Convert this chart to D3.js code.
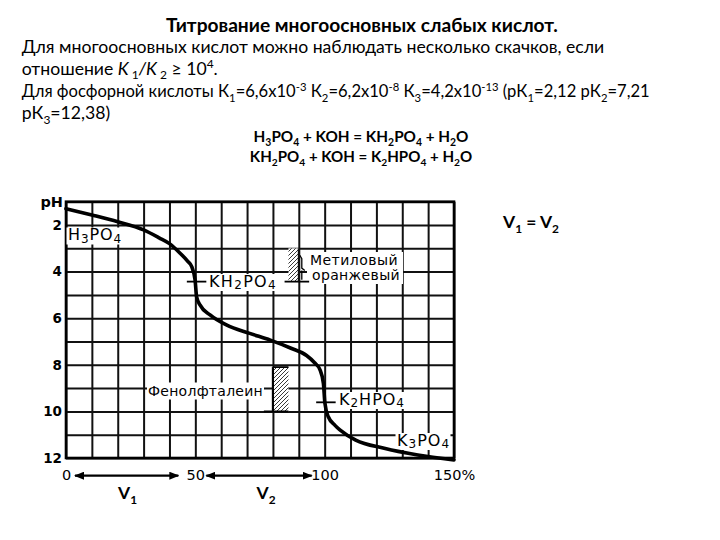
<!DOCTYPE html>
<html><head><meta charset="utf-8">
<script src="https://cdn.jsdelivr.net/npm/d3@7/dist/d3.min.js"></script>
<style>body{margin:0;background:#fff}svg{display:block}</style>
</head><body>
<svg id="c" width="720" height="540"></svg>
<script>
// ---------- data ----------
const titrantPct = [0, 10, 20, 30, 36, 40, 44, 47, 48.6, 49.9, 50.5, 51.8, 55.7, 62, 71, 79, 87, 93, 96, 98.2, 99.5, 100.1, 101.4, 104, 106, 112, 123, 136, 150];
const pHValues   = [1.3, 1.57, 1.86, 2.21, 2.55, 2.8, 3.2, 3.55, 3.79, 4.36, 5.08, 5.43, 5.86, 6.29, 6.65, 6.94, 7.29, 7.6, 7.9, 8.22, 8.79, 9.65, 10.23, 10.6, 10.8, 11.23, 11.58, 11.87, 12.08];
const xTickLabels = [0, 50, 100, 150];
const yTickLabels = [2, 4, 6, 8, 10, 12];
const gridPct = d3.range(0, 151, 10);
const gridPH = d3.range(1, 13, 1);
const equivalencePct = [50, 100];
const equivalencePH = [4.43, 9.61];
const indicatorPct = [[86, 90], [80, 86]];
const indicatorPH = [[3.0, 4.43], [8.1, 10.0]];
const volumeSpans = [[0, 50], [50, 100]];
const volumeNames = [[["V"], ["1", "sub"]], [["V"], ["2", "sub"]]];
const speciesNames = [
  [["H"], ["3", "sub"], ["PO"], ["4", "sub"]],
  [["KH"], ["2", "sub"], ["PO"], ["4", "sub"]],
  [["K"], ["2", "sub"], ["HPO"], ["4", "sub"]],
  [["K"], ["3", "sub"], ["PO"], ["4", "sub"]]
];
const headerTitle = [["Титрование многоосновных слабых кислот."]];
const headerLines = [
  [["Для многоосновных кислот можно наблюдать несколько скачков, если"]],
  [["отношение "], ["K", "i"], ["1", "sub"], ["/K", "i"], ["2", "sub"], [" ≥ 10"], ["4", "sup"], ["."]],
  [["Для фосфорной кислоты К"], ["1", "sub"], ["=6,6x10"], ["-3", "sup"], [" К"], ["2", "sub"], ["=6,2x10"], ["-8", "sup"], [" К"], ["3", "sub"], ["=4,2x10"], ["-13", "sup"], [" (pК"], ["1", "sub"], ["=2,12 pК"], ["2", "sub"], ["=7,21"]],
  [["pК"], ["3", "sub"], ["=12,38)"]]
];
const equations = [
  [["H"], ["3", "sub"], ["PO"], ["4", "sub"], [" + KOH = KH"], ["2", "sub"], ["PO"], ["4", "sub"], [" + H"], ["2", "sub"], ["O"]],
  [["KH"], ["2", "sub"], ["PO"], ["4", "sub"], [" + KOH = K"], ["2", "sub"], ["HPO"], ["4", "sub"], [" + H"], ["2", "sub"], ["O"]]
];
const equalityText = [["V"], ["1", "sub"], [" = V"], ["2", "sub"]];
const indicatorNames = [[["Метиловый"]], [["оранжевый"]], [["Фенолфталеин"]]];

// ---------- helpers ----------
const svg = d3.select("#c");
function rich(t, segs, subShift = 0.28, supShift = -0.38, smallScale = 0.68) {
  let off = 0, prevItalic = false;
  segs.forEach(([s, k]) => {
    const small = k === "sub" || k === "sup";
    const target = k === "sub" ? subShift : k === "sup" ? supShift : 0;
    const ts = t.append("tspan").text(s);
    const d = target - off;
    if (d !== 0) ts.attr("dy", (small ? d / smallScale : d) + "em");
    if (small) ts.attr("font-size", (smallScale * 100) + "%");
    if (small && prevItalic) ts.attr("dx", "0.25em");
    if (k === "i") ts.attr("font-style", "italic");
    prevItalic = k === "i";
    off = target;
  });
  return t;
}
function fitSize(t, target) {
  const fs = +t.attr("font-size");
  const w = t.node().getBBox().width;
  t.attr("font-size", fs * target / w);
  return fs * target / w;
}
function fitSpacing(t, target) {
  const w = t.node().getBBox().width;
  const n = t.text().length;
  t.style("letter-spacing", ((target - w) / n) + "px");
}

// ---------- scales ----------
const x = d3.scaleLinear().domain([0, 150]).range([66, 454]);
const y = d3.scaleLinear().domain([1, 12]).range([201.7, 458]);

// ---------- header ----------
const hdr = svg.append("g").attr("fill", "#000");
const title = hdr.append("text").attr("font-family", "Lato").attr("font-weight", "bold")
  .attr("font-size", 18).attr("text-anchor", "middle").attr("x", 362).attr("y", 32.3);
rich(title, headerTitle);
fitSize(title, 392);

const bodyBaselines = [53.3, 75, 97, 118.7];
const bodySub = [0.28, 0.22, 0.28, 0.28];
const bodyTexts = headerLines.map((segs, i) => rich(hdr.append("text").attr("font-family", "Lato")
  .attr("font-size", 18).attr("x", 21.7).attr("y", bodyBaselines[i]), segs, bodySub[i]));
const fsBody = fitSize(bodyTexts[0], 583);
bodyTexts.forEach(t => t.attr("font-size", fsBody));
fitSize(bodyTexts[2], 628);

const eqBaselines = [141.7, 161.7];
const eqWidths = [215, 222.5];
equations.forEach((segs, i) => {
  const t = rich(hdr.append("text").attr("font-family", "Lato").attr("font-weight", "bold")
    .attr("font-size", 18).attr("text-anchor", "middle").attr("x", 361).attr("y", eqBaselines[i]), segs);
  fitSize(t, eqWidths[i]);
});

// ---------- defs ----------
const defs = svg.append("defs");
const pat = defs.append("pattern").attr("id", "hatch").attr("patternUnits", "userSpaceOnUse")
  .attr("width", 4).attr("height", 4);
pat.append("path").attr("d", "M-1,1 l2,-2 M0,4 l4,-4 M3,5 l2,-2").attr("stroke", "#222").attr("stroke-width", 0.9);
defs.append("marker").attr("id", "ah").attr("viewBox", "0 0 10 8").attr("refX", 9).attr("refY", 4)
  .attr("markerWidth", 10).attr("markerHeight", 8).attr("markerUnits", "userSpaceOnUse")
  .attr("orient", "auto-start-reverse")
  .append("path").attr("d", "M0,0 L10,4 L0,8 Z").attr("fill", "#000");

// ---------- grid ----------
const gridG = svg.append("g");
const gx = gridG.append("g").attr("transform", `translate(0,${y(12)})`)
  .call(d3.axisBottom(x).tickValues(gridPct).tickSize(-(y(12) - y(1))).tickFormat(""));
gx.select(".domain").remove();
gx.selectAll("line").attr("stroke", "#111").attr("stroke-width", 2);
const gy = gridG.append("g").attr("transform", `translate(${x(0)},0)`)
  .call(d3.axisLeft(y).tickValues(gridPH).tickSize(-(x(150) - x(0))).tickFormat(""));
gy.select(".domain").remove();
gy.selectAll("line").attr("stroke", "#111").attr("stroke-width", 2);
gridG.append("rect").attr("x", x(0)).attr("y", y(1)).attr("width", x(150) - x(0)).attr("height", y(12) - y(1))
  .attr("fill", "none").attr("stroke", "#000").attr("stroke-width", 2.6);

// ---------- axes labels ----------
const ya = svg.append("g").attr("transform", `translate(${x(0)},0)`)
  .call(d3.axisLeft(y).tickValues(yTickLabels).tickSize(0).tickPadding(4));
ya.select(".domain").remove();
ya.attr("font-family", "DejaVu Sans").attr("font-size", 13.5).attr("font-weight", "bold");
ya.selectAll("text").attr("fill", "#000");
svg.append("text").attr("x", 63).attr("y", 206.5).attr("text-anchor", "end")
  .attr("font-family", "DejaVu Sans").attr("font-weight", "bold").attr("font-size", 14.5).text("pH");

const xa = svg.append("g").attr("transform", `translate(0,${y(12)})`)
  .call(d3.axisBottom(x).tickValues(xTickLabels).tickSize(0).tickFormat(d => d === 150 ? d + "%" : d));
xa.select(".domain").remove();
xa.attr("font-family", "DejaVu Sans").attr("font-size", 14.5);
xa.selectAll("text").attr("y", 22).attr("dy", 0).attr("fill", "#000");

// volume arrows
const arrowPad = [[9, 17], [11, 13]];
volumeSpans.forEach(([a, b], i) => {
  svg.append("line").attr("x1", x(a) + arrowPad[i][0]).attr("x2", x(b) - arrowPad[i][1])
    .attr("y1", 475.7).attr("y2", 475.7).attr("stroke", "#000").attr("stroke-width", 2.3)
    .attr("marker-start", "url(#ah)").attr("marker-end", "url(#ah)");
});
const vLabelX = [118, 256.5];
const vTexts = volumeNames.map((segs, i) => rich(svg.append("text").attr("font-family", "Lato")
  .attr("font-weight", "bold").attr("font-size", 18).attr("x", vLabelX[i]).attr("y", 498.5), segs, 0.3));

const eqT = rich(svg.append("text").attr("font-family", "Lato").attr("font-weight", "bold")
  .attr("font-size", 18).attr("x", 503).attr("y", 228), equalityText, 0.3);
const fsV = fitSize(eqT, 57);
vTexts.forEach(t => t.attr("font-size", fsV));

// ---------- indicator ranges ----------
const boxLayer = svg.append("g");
const hatchLayer = svg.append("g");
indicatorPct.forEach(([a, b], i) => {
  const [p0, p1] = indicatorPH[i];
  hatchLayer.append("rect").attr("x", x(a)).attr("y", y(p0)).attr("width", x(b) - x(a)).attr("height", y(p1) - y(p0))
    .attr("fill", "#fff");
  hatchLayer.append("rect").attr("x", x(a)).attr("y", y(p0)).attr("width", x(b) - x(a)).attr("height", y(p1) - y(p0))
    .attr("fill", "url(#hatch)");
});
// methyl orange marks
hatchLayer.append("line").attr("x1", x(84.5)).attr("x2", x(94)).attr("y1", y(indicatorPH[0][1])).attr("y2", y(indicatorPH[0][1]))
  .attr("stroke", "#000").attr("stroke-width", 1.8);
hatchLayer.append("path").attr("d", `M${x(90) + 1},${y(3.3)} L${x(90) + 3},${y(3.45)} L${x(90) + 3},${y(3.85)} L${x(90) + 6},${y(3.95)} M${x(90) + 3},${y(3.95)} L${x(90) + 3},${y(4.35)}`)
  .attr("fill", "none").attr("stroke", "#000").attr("stroke-width", 1.3);
hatchLayer.append("line").attr("x1", x(90)).attr("x2", x(90)).attr("y1", y(indicatorPH[0][0])).attr("y2", y(indicatorPH[0][1]))
  .attr("stroke", "#111").attr("stroke-width", 2);
// phenolphthalein marks
hatchLayer.append("line").attr("x1", x(80)).attr("x2", x(86)).attr("y1", y(indicatorPH[1][0])).attr("y2", y(indicatorPH[1][0]))
  .attr("stroke", "#000").attr("stroke-width", 1.8);
hatchLayer.append("line").attr("x1", x(76.5)).attr("x2", x(86)).attr("y1", y(indicatorPH[1][1])).attr("y2", y(indicatorPH[1][1]))
  .attr("stroke", "#000").attr("stroke-width", 1.8);
hatchLayer.append("line").attr("x1", x(80)).attr("x2", x(80)).attr("y1", y(indicatorPH[1][0])).attr("y2", y(indicatorPH[1][1]))
  .attr("stroke", "#000").attr("stroke-width", 2.2);

// ---------- curve ----------
const line = d3.line().x(d => x(d[0])).y(d => y(d[1])).curve(d3.curveMonotoneX);
svg.append("path").datum(d3.zip(titrantPct, pHValues)).attr("d", line)
  .attr("fill", "none").attr("stroke", "#000").attr("stroke-width", 3.6).attr("stroke-linecap", "round");

// equivalence marks
equivalencePct.forEach((p, i) => {
  svg.append("line").attr("x1", x(p) - 8.5).attr("x2", x(p) + 11).attr("y1", y(equivalencePH[i])).attr("y2", y(equivalencePH[i]))
    .attr("stroke", "#000").attr("stroke-width", 1.8);
});

// ---------- chart labels ----------
const lblLayer = svg.append("g").attr("font-family", "DejaVu Sans").attr("fill", "#000");
const speciesPos = [[68, 240, 54], [209, 286.5, 68], [339, 404.5, 66], [397, 445.5, 53]];
const boxes = [];
speciesNames.forEach((segs, i) => {
  const [px, py, w] = speciesPos[i];
  const t = rich(lblLayer.append("text").attr("font-size", 16).attr("x", px).attr("y", py), segs, 0.18, -0.38, 0.75);
  fitSpacing(t, w);
  boxes.push([px - 1.5, py - 12.5, w + 2, 17]);
});
const indPos = [[310, 265, 88], [312, 280, 88], [148, 396, 115]];
indicatorNames.forEach((segs, i) => {
  const [px, py, w] = indPos[i];
  const t = rich(lblLayer.append("text").attr("font-size", 14).attr("x", px).attr("y", py), segs);
  fitSpacing(t, w);
});
boxes.push([307, 252, 96, 32]);
boxes.push([147, 382.5, 117, 17]);
boxes.forEach(([bx, by, bw, bh]) => boxLayer.append("rect").attr("x", bx).attr("y", by).attr("width", bw).attr("height", bh).attr("fill", "#fff"));
</script>
</body></html>
